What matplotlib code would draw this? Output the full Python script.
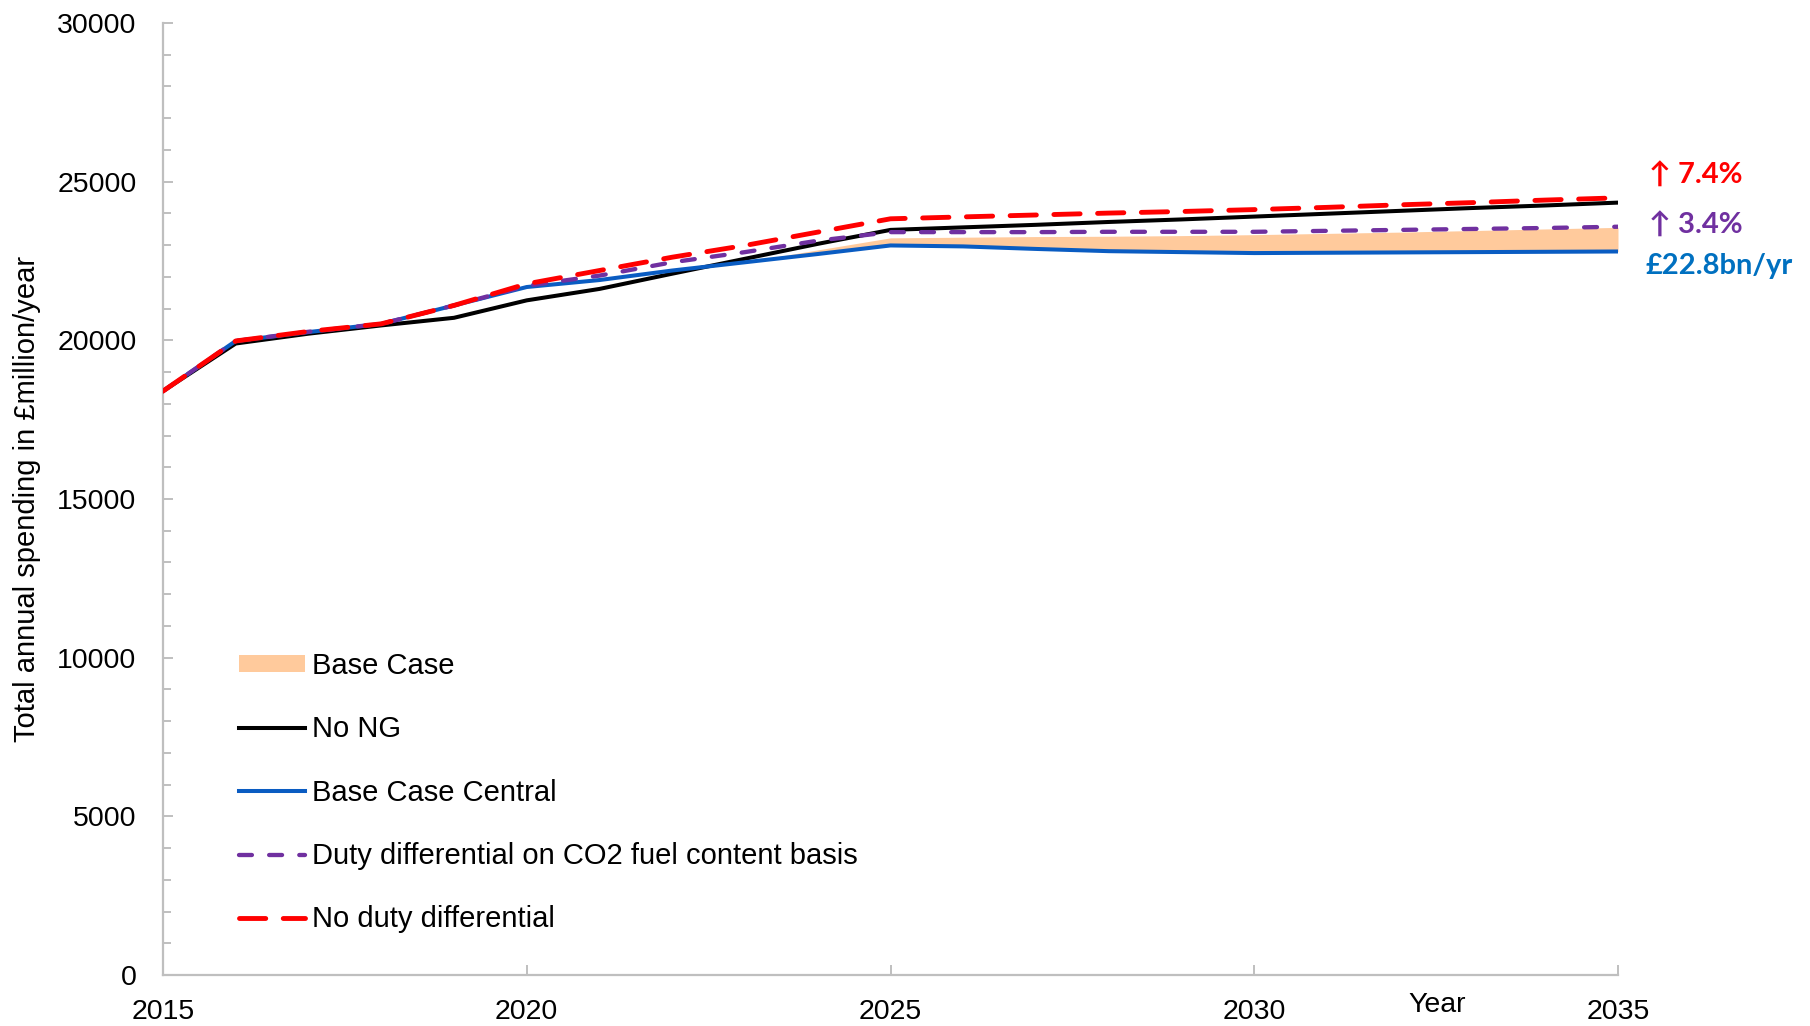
import matplotlib
matplotlib.use("Agg")
import matplotlib.pyplot as plt
from matplotlib.lines import Line2D
from matplotlib.patches import Patch

# Annual spending projections, £million/year
years = list(range(2015, 2036))

base_central = [18400, 19980, 20260, 20520, 21100, 21680, 21900, 22200, 22460, 22720,
                22990, 22960, 22880, 22810, 22780, 22750, 22760, 22770, 22780, 22790, 22800]
no_ng = [18400, 19900, 20210, 20470, 20710, 21260, 21620, 22100, 22570, 23040,
         23480, 23560, 23640, 23730, 23810, 23900, 23990, 24080, 24170, 24250, 24340]
duty_co2 = [18400, 19980, 20270, 20520, 21100, 21720, 22040, 22460, 22780, 23140,
            23410, 23410, 23410, 23420, 23420, 23420, 23450, 23480, 23510, 23540, 23580]
no_duty = [18400, 19980, 20280, 20520, 21100, 21780, 22200, 22620, 22990, 23410,
           23830, 23890, 23950, 24010, 24060, 24120, 24190, 24270, 24340, 24420, 24490]

# Base Case range
band_low = base_central
band_high = [18400, 19980, 20260, 20520, 21100, 21680, 21900, 22200, 22470, 22850,
             23230, 23250, 23270, 23280, 23300, 23330, 23370, 23410, 23460, 23510, 23560]

legend_labels = ["Base Case", "No NG", "Base Case Central",
                 "Duty differential on CO2 fuel content basis", "No duty differential"]

C_BAND = "#FFCA9C"
C_BLACK = "#000000"
C_BLUE = "#0A5CC2"
C_PURPLE = "#7030A0"
C_RED = "#FF0000"
C_LABEL_BLUE = "#0070C0"
C_AXIS = "#BFBFBF"

plt.rcParams["font.family"] = ["Liberation Sans", "DejaVu Sans"]

W, H = 1810, 1026
fig = plt.figure(figsize=(W / 100, H / 100), dpi=100)
left, right, top, bottom = 163, 1618, 23, 975
ax = fig.add_axes([left / W, 1 - bottom / H, (right - left) / W, (bottom - top) / H])

ax.fill_between(years, band_low, band_high, color=C_BAND, linewidth=0, zorder=1)
ax.plot(years, no_ng, color=C_BLACK, lw=2.9, zorder=2)
ax.plot(years, base_central, color=C_BLUE, lw=2.9, zorder=3)
ax.plot(years, duty_co2, color=C_PURPLE, lw=3.1, dashes=(3.0, 4.0),
        dash_capstyle="round", zorder=4)
ax.plot(years, no_duty, color=C_RED, lw=3.5, dashes=(5.4, 3.6),
        dash_capstyle="round", zorder=5)

ax.set_xlim(2015, 2035)
ax.set_ylim(0, 30000)
ax.set_xticks([2015, 2020, 2025, 2030, 2035])
ax.set_yticks(range(0, 30001, 5000))
ax.set_yticks(range(0, 30001, 1000), minor=True)

for s in ("top", "right"):
    ax.spines[s].set_visible(False)
for s in ("left", "bottom"):
    ax.spines[s].set_color(C_AXIS)
    ax.spines[s].set_linewidth(1.6)

ax.tick_params(axis="y", which="major", direction="in", length=7, width=1.4,
               color=C_AXIS, labelsize=20.5, pad=19)
ax.tick_params(axis="y", which="minor", direction="in", length=6, width=1.4,
               color=C_AXIS)
ax.tick_params(axis="x", which="major", direction="in", length=7, width=1.4,
               color=C_AXIS, labelsize=20.5, pad=17)

ax.set_ylabel("Total annual spending in £million/year", fontsize=21)
ax.yaxis.set_label_coords(-(left - 27) / (right - left), 0.5)
ax.yaxis.label.set_va("center")

ax.set_xlabel("Year", fontsize=20.5)
ax.xaxis.set_label_coords((1437 - left) / (right - left), -(1005 - bottom) / (bottom - top))
ax.xaxis.label.set_va("center")

handles = [
    Patch(facecolor=C_BAND, edgecolor="none"),
    Line2D([], [], color=C_BLACK, lw=2.9),
    Line2D([], [], color=C_BLUE, lw=2.9),
    Line2D([], [], color=C_PURPLE, lw=3.1, dashes=(3.0, 4.0), dash_capstyle="round"),
    Line2D([], [], color=C_RED, lw=3.5, dashes=(5.4, 3.6), dash_capstyle="round"),
]
leg = ax.legend(handles, legend_labels, loc="upper left",
                bbox_to_anchor=((239 - left) / (right - left), (bottom - 652) / (bottom - top)),
                frameon=False, fontsize=21, handlelength=2.25, handleheight=0.5,
                handletextpad=0.25, labelspacing=1.21, borderpad=0, borderaxespad=0)

# End-of-period annotations
end = base_central[-1]
pct_no_duty = (no_duty[-1] / end - 1) * 100
pct_duty_co2 = (duty_co2[-1] / end - 1) * 100
ann_font = ["Lato", "DejaVu Sans"]
ax.text(2035.42, 25180, f"\u2191 {pct_no_duty:.1f}%", color=C_RED, fontsize=21,
        fontweight="bold", family=ann_font, va="center", ha="left", clip_on=False)
ax.text(2035.42, 23600, f"\u2191 {pct_duty_co2:.1f}%", color=C_PURPLE, fontsize=21,
        fontweight="bold", family=ann_font, va="center", ha="left", clip_on=False)
ax.text(2035.38, 22340, f"£{end / 1000:.1f}bn/yr", color=C_LABEL_BLUE, fontsize=21,
        fontweight="bold", family=ann_font, va="center", ha="left", clip_on=False)

fig.savefig("out.png", dpi=100)
